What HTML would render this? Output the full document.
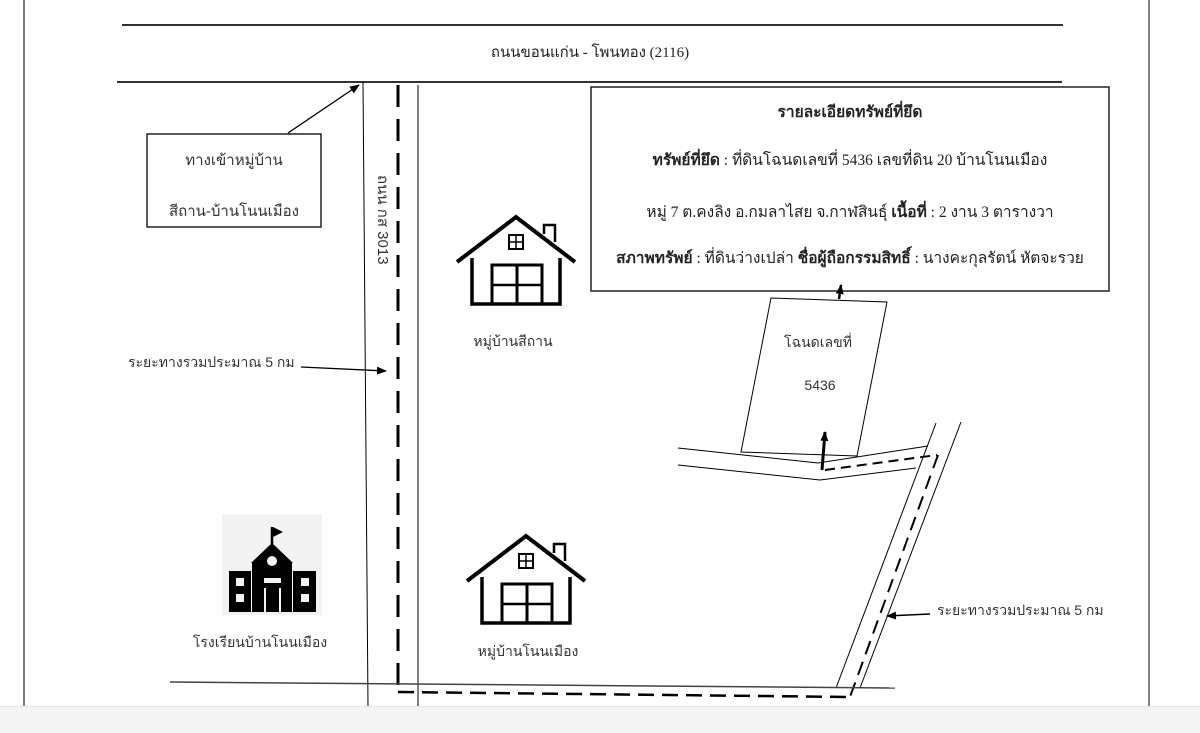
<!DOCTYPE html>
<html><head><meta charset="utf-8"><style>
html,body{margin:0;padding:0;background:#fff;}
svg{display:block;}
text{font-family:"Liberation Serif","Noto Serif CJK SC","Noto Sans CJK SC",serif;fill:#222;}
.s{font-family:"Liberation Sans","Noto Sans CJK SC",sans-serif;fill:#333;}
</style></head><body>
<svg width="1200" height="733" viewBox="0 0 1200 733" xmlns="http://www.w3.org/2000/svg">
<defs>
<marker id="ar" markerWidth="10" markerHeight="8" refX="9" refY="4" orient="auto" markerUnits="userSpaceOnUse"><path d="M0,0 L10,4 L0,8 z" fill="#000"/></marker>
<g id="house" fill="none" stroke="#000">
<polyline points="457,262 516,217 575,262" stroke-width="4"/>
<polyline points="472,258 472,304 560,304 560,258" stroke-width="3.5"/>
<rect x="492" y="265" width="50" height="39" stroke-width="3"/>
<line x1="517" y1="265" x2="517" y2="304" stroke-width="3"/>
<line x1="492" y1="285" x2="542" y2="285" stroke-width="2.5"/>
<rect x="509" y="235" width="14" height="14" stroke-width="2"/>
<line x1="516" y1="235" x2="516" y2="249" stroke-width="1.5"/>
<line x1="509" y1="242" x2="523" y2="242" stroke-width="1.5"/>
<polyline points="544,234 544,225 555,225 555,242" stroke-width="2.5"/>
</g>
</defs>
<rect width="1200" height="733" fill="#fff"/>
<line x1="24" y1="0" x2="24" y2="706" stroke="#000" stroke-width="1"/>
<line x1="1149" y1="0" x2="1149" y2="706" stroke="#000" stroke-width="1"/>
<rect x="0" y="706" width="1200" height="27" fill="#f4f4f4"/>
<line x1="0" y1="706.5" x2="1200" y2="706.5" stroke="#e6e6e6"/>
<line x1="122" y1="25" x2="1063" y2="25" stroke="#333" stroke-width="2"/>
<line x1="117" y1="82" x2="1062" y2="82" stroke="#333" stroke-width="2"/>
<text x="590" y="57" font-size="15" text-anchor="middle">ถนนขอนแก่น - โพนทอง (2116)</text>
<line x1="363" y1="82" x2="368" y2="706" stroke="#000" stroke-width="1"/>
<line x1="418" y1="85" x2="418" y2="706" stroke="#000" stroke-width="1"/>
<line x1="398" y1="85" x2="398" y2="690" stroke="#000" stroke-width="3" stroke-dasharray="22,12"/>
<text x="0" y="0" font-size="15" class="s" transform="translate(378,175) rotate(90)">ถนน กส 3013</text>
<rect x="147" y="134" width="174" height="93" fill="#fff" stroke="#000" stroke-width="1.3"/>
<text x="234" y="165" font-size="15" text-anchor="middle" class="s">ทางเข้าหมู่บ้าน</text>
<text x="234" y="216" font-size="15" text-anchor="middle" class="s">สีถาน-บ้านโนนเมือง</text>
<line x1="288" y1="133" x2="359" y2="85" stroke="#000" stroke-width="1.3" marker-end="url(#ar)"/>
<use href="#house"/>
<text x="513" y="346" font-size="14" text-anchor="middle" class="s">หมู่บ้านสีถาน</text>
<use href="#house" transform="translate(10,319)"/>
<text x="528" y="656" font-size="14" text-anchor="middle" class="s">หมู่บ้านโนนเมือง</text>
<text x="128" y="367" font-size="14" class="s">ระยะทางรวมประมาณ 5 กม</text>
<line x1="301" y1="367" x2="386" y2="371" stroke="#000" stroke-width="1.3" marker-end="url(#ar)"/>
<rect x="222" y="514" width="100" height="101" fill="#f2f2f2"/>
<g fill="#000">
<line x1="272" y1="527" x2="272" y2="548" stroke="#000" stroke-width="2.5"/>
<polygon points="273,527 283,532 273,537"/>
<polygon points="251,563 272,543 293,563"/>
<rect x="252" y="562" width="40" height="50"/>
<rect x="229" y="571" width="22" height="41"/>
<rect x="293" y="571" width="23" height="41"/>
</g>
<circle cx="272" cy="561" r="5" fill="#f2f2f2"/>
<rect x="264" y="578" width="17" height="5" fill="#f2f2f2"/>
<rect x="264" y="588" width="17" height="24" fill="#f2f2f2"/>
<rect x="266" y="588" width="13" height="24" fill="#000"/>
<rect x="236" y="578" width="8" height="8" fill="#f2f2f2"/>
<rect x="236" y="594" width="8" height="8" fill="#f2f2f2"/>
<rect x="301" y="578" width="8" height="8" fill="#f2f2f2"/>
<rect x="301" y="594" width="8" height="8" fill="#f2f2f2"/>
<text x="260" y="647" font-size="14" text-anchor="middle" class="s">โรงเรียนบ้านโนนเมือง</text>
<rect x="591" y="87" width="518" height="204" fill="#fff" stroke="#222" stroke-width="1.5"/>
<text x="850" y="117" font-size="15.5" text-anchor="middle" font-weight="bold">รายละเอียดทรัพย์ที่ยึด</text>
<text x="850" y="165" font-size="15.5" text-anchor="middle"><tspan font-weight="bold">ทรัพย์ที่ยึด</tspan> : ที่ดินโฉนดเลขที่ 5436  เลขที่ดิน 20 บ้านโนนเมือง</text>
<text x="850" y="217" font-size="15.5" text-anchor="middle">หมู่ 7 ต.คงลิง อ.กมลาไสย จ.กาฬสินธุ์  <tspan font-weight="bold">เนื้อที่</tspan>  : 2 งาน 3 ตารางวา</text>
<text x="850" y="263" font-size="15.5" text-anchor="middle"><tspan font-weight="bold">สภาพทรัพย์</tspan> : ที่ดินว่างเปล่า <tspan font-weight="bold">ชื่อผู้ถือกรรมสิทธิ์</tspan> : นางคะกุลรัตน์  หัตจะรวย</text>
<line x1="839" y1="299" x2="841" y2="285" stroke="#000" stroke-width="2.5" marker-end="url(#ar)"/>
<polygon points="771,298 887,302 857,456 741,452" fill="none" stroke="#000" stroke-width="1"/>
<text x="818" y="347" font-size="14" text-anchor="middle" class="s">โฉนดเลขที่</text>
<text x="820" y="390" font-size="14" text-anchor="middle" class="s">5436</text>
<polyline points="678,448 818,463 928,446" fill="none" stroke="#000" stroke-width="1"/>
<polyline points="678,465 820,480 916,468" fill="none" stroke="#000" stroke-width="1"/>
<line x1="825" y1="470" x2="937" y2="455" stroke="#000" stroke-width="2" stroke-dasharray="10,6"/>
<line x1="822" y1="470" x2="825" y2="432" stroke="#000" stroke-width="3" marker-end="url(#ar)"/>
<line x1="936" y1="423" x2="836" y2="688" stroke="#000" stroke-width="1"/>
<line x1="961" y1="422" x2="860" y2="688" stroke="#000" stroke-width="1"/>
<line x1="938" y1="455" x2="850" y2="697" stroke="#000" stroke-width="2" stroke-dasharray="14,8"/>
<text x="937" y="615" font-size="14" class="s">ระยะทางรวมประมาณ 5 กม</text>
<line x1="930" y1="614" x2="887" y2="616" stroke="#000" stroke-width="1.5" marker-end="url(#ar)"/>
<line x1="170" y1="682" x2="895" y2="688" stroke="#444" stroke-width="1.5"/>
<line x1="398" y1="692" x2="850" y2="697" stroke="#000" stroke-width="2.5" stroke-dasharray="16,8"/>
</svg>
</body></html>
